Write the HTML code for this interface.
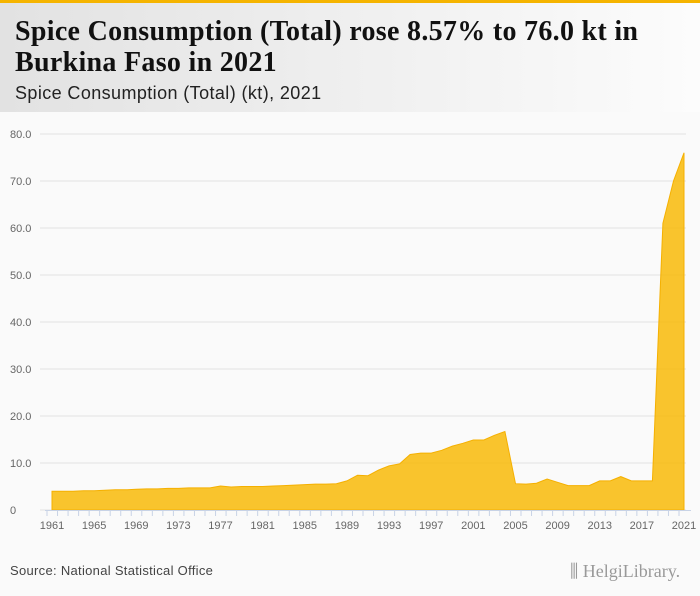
<!DOCTYPE html>
<html><head><meta charset="utf-8"><style>
body{margin:0;width:700px;height:596px;background:#fafafa;overflow:hidden;font-family:"Liberation Sans",sans-serif;position:relative}
#hdr{position:absolute;left:0;top:0;width:700px;height:112px;background:linear-gradient(90deg,#e2e2e2,#fcfcfc);border-top:3px solid #f5b400;box-sizing:border-box}
#title{position:absolute;left:15px;top:13px;font-family:"Liberation Serif",serif;font-weight:bold;font-size:28px;line-height:31px;color:#111;letter-spacing:0.3px;white-space:nowrap}
#sub{position:absolute;left:15px;top:80px;font-size:18px;color:#222;letter-spacing:0.4px}
#src{position:absolute;left:10px;top:563px;font-size:13px;color:#444;letter-spacing:0.3px}
#logo{position:absolute;left:570px;top:561px;font-family:"Liberation Serif",serif;font-size:18px;color:#999}
svg{position:absolute;left:0;top:0}
</style></head><body>
<div id="hdr">
<div id="title">Spice Consumption (Total) rose 8.57% to 76.0 kt in<br>Burkina Faso in 2021</div>
<div id="sub">Spice Consumption (Total) (kt), 2021</div>
</div>
<svg id="chart" width="700" height="596"></svg>
<div id="src">Source: National Statistical Office</div>
<div id="logo">&#x2AFC; Helgi<span style="font-weight:normal">Library.</span></div>
<script>
const years=[];for(let y=1961;y<=2021;y++)years.push(y);
const values=[4.0,4.0,4.0,4.1,4.1,4.2,4.3,4.3,4.4,4.5,4.5,4.6,4.6,4.7,4.7,4.7,5.1,4.9,5.0,5.0,5.0,5.1,5.2,5.3,5.4,5.5,5.5,5.6,6.2,7.4,7.3,8.5,9.4,9.8,11.8,12.1,12.1,12.7,13.6,14.2,14.9,14.9,15.9,16.7,5.6,5.5,5.7,6.6,5.9,5.2,5.2,5.2,6.2,6.2,7.1,6.2,6.2,6.2,61,70,76.0];
const yTicks=[0,10,20,30,40,50,60,70,80];
const yLabels=["0","10.0","20.0","30.0","40.0","50.0","60.0","70.0","80.0"];
const xLabelYears=[1961,1965,1969,1973,1977,1981,1985,1989,1993,1997,2001,2005,2009,2013,2017,2021];
const svg=document.getElementById('chart');const NS='http://www.w3.org/2000/svg';
const X=y=>52+(y-1961)*(632/60);const Y=v=>510-v*4.7;
function mk(t,a,p){const e=document.createElementNS(NS,t);for(const k in a)e.setAttribute(k,a[k]);(p||svg).appendChild(e);return e;}
mk('rect',{x:0,y:112,width:700,height:484,fill:'#fafafa'});
yTicks.forEach((v,i)=>{
 const l=mk('line',{x1:40,x2:686,y1:Y(v),y2:Y(v),stroke:'#e2e2e2','stroke-width':1});
 
 
 const t=mk('text',{x:10,y:Y(v)+4,'font-size':11,fill:'#666','font-family':'Liberation Sans, sans-serif'});t.textContent=yLabels[i];
 
 
});
let d='M'+X(years[0])+','+Y(0);
years.forEach((y,i)=>{d+=' L'+X(y).toFixed(1)+','+Y(values[i]).toFixed(1);});
d+=' L'+X(years[years.length-1])+','+Y(0)+' Z';
const a=mk('path',{d:d,fill:'#f9b800','fill-opacity':0.82,stroke:'#f5b000','stroke-width':1});


const ax=mk('line',{x1:45,x2:691,y1:510.5,y2:510.5,stroke:'#c8d3e6'});


years.forEach(y=>{const tk=mk('line',{x1:X(y)-5,x2:X(y)-5,y1:510,y2:516,stroke:'#c8d3e6'});
 
 });
xLabelYears.forEach(y=>{const t=mk('text',{x:X(y),y:529,'font-size':11,fill:'#666','text-anchor':'middle','font-family':'Liberation Sans, sans-serif'});t.textContent=y;
 
 });
</script>
</body></html>
